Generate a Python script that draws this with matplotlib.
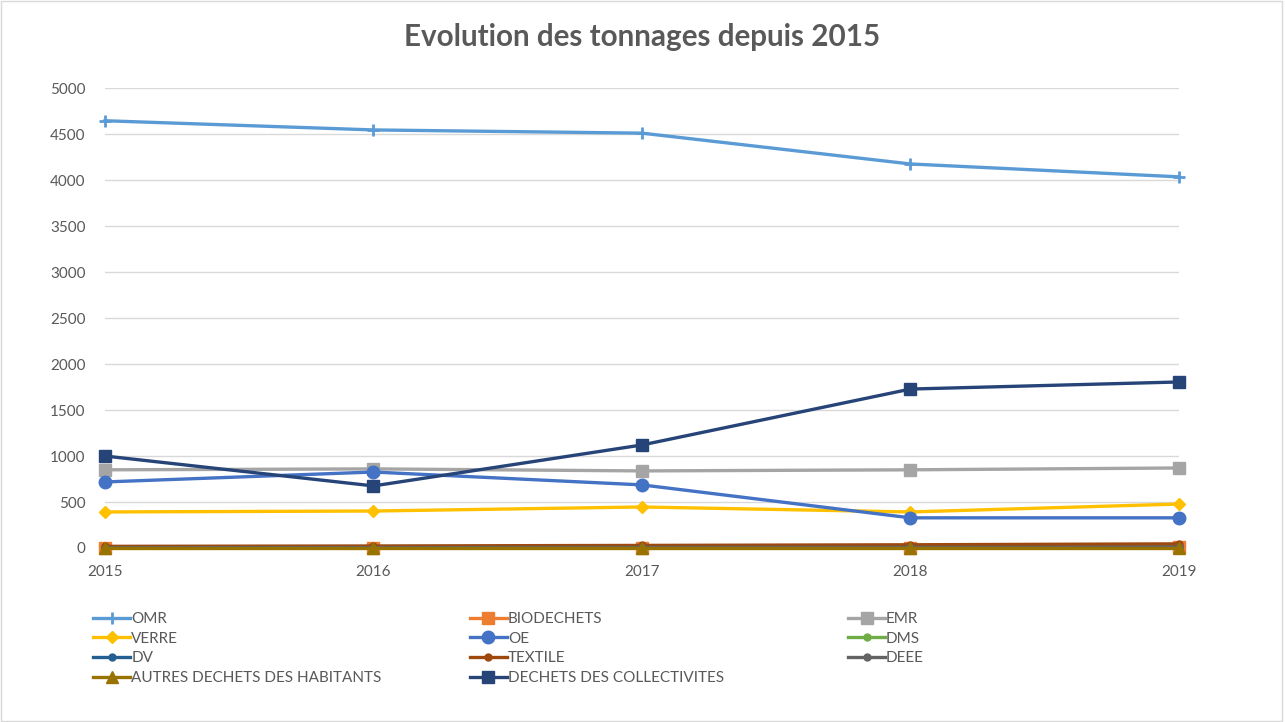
import matplotlib.pyplot as plt
import matplotlib.patches as patches

plt.rcParams['font.family'] = ['Lato', 'DejaVu Sans']

years = [2015, 2016, 2017, 2018, 2019]

omr = [4645, 4545, 4510, 4175, 4035]
biodechets = [0, 0, 0, 0, 12]
emr = [850, 860, 838, 850, 870]
verre = [392, 402, 446, 392, 478]
oe = [718, 826, 686, 328, 328]
dms = [3, 4, 5, 6, 10]
dv = [5, 6, 6, 8, 10]
textile = [18, 22, 28, 35, 45]
deee = [4, 5, 6, 7, 8]
autres = [0, 0, 0, 0, 0]
collectivites = [1000, 675, 1120, 1728, 1805]

series = [
    ('OMR', omr, '#5B9BD5', '+', 9),
    ('BIODECHETS', biodechets, '#ED7D31', 's', 9),
    ('EMR', emr, '#A5A5A5', 's', 9),
    ('VERRE', verre, '#FFC000', 'D', 6),
    ('OE', oe, '#4472C4', 'o', 9),
    ('DMS', dms, '#70AD47', 'o', 5),
    ('DV', dv, '#255E91', 'o', 5),
    ('TEXTILE', textile, '#9E480E', 'o', 5),
    ('DEEE', deee, '#636363', 'o', 5),
    ('AUTRES DECHETS DES HABITANTS', autres, '#997300', '^', 8),
    ('DECHETS DES COLLECTIVITES', collectivites, '#264478', 's', 9),
]

fig = plt.figure(figsize=(12.85, 7.22), dpi=100)
ax = fig.add_axes([0.0817, 0.241, 0.8358, 0.637])

handles = []
for name, vals, col, mk, ms in series:
    h, = ax.plot(years, vals, color=col, lw=2.4, marker=mk, ms=ms,
                 mew=2 if mk == '+' else 1, label=name, clip_on=False, zorder=3)
    handles.append(h)

ax.set_xlim(2015, 2019)
ax.set_ylim(0, 5000)
ax.set_xticks(years)
ax.set_yticks(range(0, 5001, 500))
ax.grid(axis='y', color='#D9D9D9', lw=1)
ax.set_axisbelow(True)
for s in ['top', 'right', 'left']:
    ax.spines[s].set_visible(False)
ax.spines['bottom'].set_color('#D9D9D9')
ax.tick_params(length=0, labelsize=11, colors='#595959')
ax.tick_params(axis='y', pad=14)
ax.tick_params(axis='x', pad=12)

fig.suptitle('Evolution des tonnages depuis 2015', fontsize=21.3, fontweight='bold',
             color='#595959', y=0.968)

# three fixed-width legend columns like Excel
cols = [[0, 3, 6, 9], [1, 4, 7, 10], [2, 5, 8]]
xs = [0.0676, 0.3607, 0.655]
for c, x in zip(cols, xs):
    leg = fig.legend([handles[i] for i in c], [series[i][0] for i in c],
                     loc='upper left', bbox_to_anchor=(x, 0.161), frameon=False,
                     fontsize=11, handlelength=2.45, handletextpad=0.05,
                     labelspacing=0.38, borderaxespad=0, markerscale=1.0)
    for t in leg.get_texts():
        t.set_color('#595959')

fig.patches.append(patches.Rectangle((0.001, 0.001), 0.997, 0.997, transform=fig.transFigure,
                                     fill=False, edgecolor='#D9D9D9', lw=1))

plt.savefig('out.png', dpi=100)
